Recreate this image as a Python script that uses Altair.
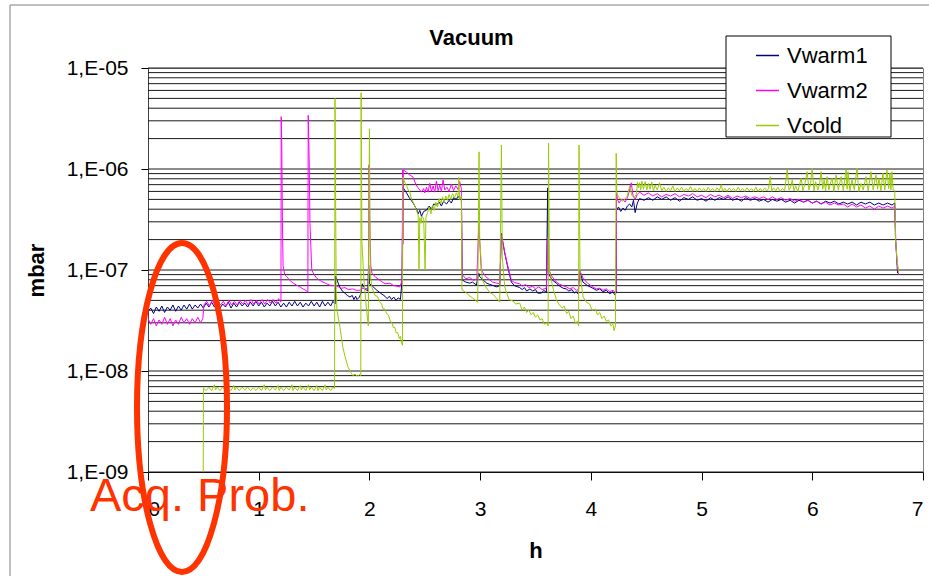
import altair as alt
import pandas as pd

FONT = "Liberation Sans"

SERIES = ["Vwarm1", "Vwarm2", "Vcold"]
COLORS = ["#000080", "#FF00FF", "#99CC00"]

DECADES = [1e-9, 1e-8, 1e-7, 1e-6, 1e-5]
MINOR_MULT = [2, 3, 4, 5, 6, 7, 8, 9]
X_TICKS = [0, 1, 2, 3, 4, 5, 6, 7]

# (h, mbar)
VWARM1 = [
    (0.00, 3.9e-8), (0.025, 4.2e-8), (0.05, 3.7e-8), (0.075, 4.3e-8), (0.10, 3.9e-8),
    (0.125, 4.4e-8), (0.15, 3.8e-8), (0.175, 4.3e-8), (0.20, 4.0e-8), (0.225, 4.5e-8),
    (0.25, 3.9e-8), (0.275, 4.4e-8), (0.30, 4.0e-8), (0.325, 4.5e-8), (0.35, 4.1e-8),
    (0.375, 4.6e-8), (0.40, 4.1e-8), (0.425, 4.5e-8), (0.45, 4.2e-8), (0.475, 4.6e-8),
    (0.50, 4.2e-8), (0.525, 4.7e-8), (0.55, 4.3e-8), (0.575, 4.8e-8), (0.60, 4.3e-8),
    (0.625, 4.7e-8), (0.65, 4.2e-8), (0.675, 4.6e-8), (0.70, 4.3e-8), (0.725, 4.8e-8),
    (0.75, 4.2e-8), (0.775, 4.7e-8), (0.80, 4.3e-8), (0.825, 4.8e-8), (0.85, 4.4e-8),
    (0.875, 4.7e-8), (0.90, 4.3e-8), (0.925, 4.8e-8), (0.95, 4.4e-8), (0.975, 4.9e-8),
    (1.00, 4.4e-8), (1.025, 4.8e-8), (1.05, 4.3e-8), (1.075, 4.7e-8), (1.10, 4.4e-8),
    (1.125, 4.9e-8), (1.15, 4.4e-8), (1.175, 4.8e-8), (1.20, 4.3e-8), (1.225, 4.7e-8),
    (1.25, 4.3e-8), (1.275, 4.8e-8), (1.30, 4.4e-8), (1.325, 4.9e-8), (1.35, 4.4e-8),
    (1.375, 4.8e-8), (1.40, 4.3e-8), (1.425, 4.7e-8), (1.45, 4.4e-8), (1.475, 4.9e-8),
    (1.50, 4.4e-8), (1.525, 4.8e-8), (1.55, 4.3e-8), (1.575, 4.9e-8), (1.60, 4.4e-8),
    (1.625, 4.8e-8), (1.65, 4.4e-8), (1.67, 4.9e-8), (1.69, 4.6e-8),
    (1.695, 8.7e-8), (1.71, 7.8e-8), (1.734, 6.7e-8), (1.76, 6.1e-8), (1.779, 5.9e-8),
    (1.80, 5.6e-8), (1.824, 5.4e-8), (1.845, 5.6e-8), (1.86, 5.1e-8), (1.875, 5.5e-8),
    (1.888, 5.1e-8), (1.91, 5.4e-8), (1.925, 6.0e-8), (1.935, 7.3e-8), (1.96, 6.5e-8),
    (1.985, 6.2e-8), (1.993, 1.12e-7), (2.00, 7.3e-8), (2.023, 7.0e-8), (2.06, 6.4e-8),
    (2.10, 5.9e-8), (2.14, 5.5e-8), (2.16, 5.2e-8), (2.18, 5.5e-8), (2.20, 5.1e-8),
    (2.22, 5.4e-8), (2.24, 5.0e-8), (2.26, 5.3e-8), (2.28, 5.1e-8), (2.295, 8.0e-8),
    (2.302, 7.0e-7), (2.31, 6.4e-7), (2.335, 5.8e-7), (2.36, 5.2e-7), (2.395, 4.6e-7),
    (2.425, 4.0e-7), (2.44, 3.6e-7), (2.455, 3.9e-7), (2.47, 3.4e-7), (2.49, 3.8e-7),
    (2.515, 3.9e-7), (2.54, 4.3e-7), (2.56, 4.0e-7), (2.58, 4.5e-7), (2.606, 4.4e-7),
    (2.63, 4.7e-7), (2.65, 4.3e-7), (2.67, 4.8e-7), (2.696, 4.5e-7), (2.72, 4.9e-7),
    (2.74, 4.6e-7), (2.76, 5.2e-7), (2.786, 5.0e-7), (2.80, 5.4e-7), (2.816, 5.1e-7),
    (2.831, 5.3e-7), (2.838, 7.8e-8),
    (2.843, 7.9e-8), (2.87, 7.6e-8), (2.906, 7.4e-8), (2.93, 7.6e-8), (2.966, 7.1e-8),
    (2.987, 9.3e-8), (2.996, 8.6e-8), (3.03, 7.9e-8), (3.06, 7.4e-8), (3.087, 7.2e-8),
    (3.12, 7.0e-8), (3.15, 6.8e-8), (3.177, 7.0e-8), (3.192, 2.3e-7), (3.222, 1.47e-7),
    (3.249, 1.07e-7), (3.282, 7.6e-8), (3.31, 7.0e-8), (3.357, 6.7e-8), (3.38, 6.4e-8),
    (3.40, 6.7e-8), (3.42, 6.2e-8), (3.45, 6.5e-8), (3.474, 6.2e-8), (3.50, 6.4e-8),
    (3.52, 5.9e-8), (3.553, 5.9e-8), (3.575, 6.3e-8), (3.598, 6.0e-8), (3.610, 6.5e-7),
    (3.615, 9.3e-8), (3.65, 8.0e-8), (3.688, 7.4e-8), (3.72, 6.9e-8), (3.75, 6.6e-8),
    (3.778, 6.5e-8), (3.80, 6.2e-8), (3.83, 6.4e-8), (3.85, 5.9e-8), (3.868, 6.1e-8),
    (3.885, 5.8e-8), (3.898, 1.0e-7), (3.928, 7.6e-8), (3.97, 7.0e-8), (4.018, 6.6e-8),
    (4.05, 6.3e-8), (4.08, 6.5e-8), (4.108, 6.1e-8), (4.14, 6.3e-8), (4.17, 5.8e-8),
    (4.20, 6.1e-8), (4.214, 5.7e-8), (4.229, 5.9e-8),
    (4.232, 3.9e-7), (4.25, 4.2e-7), (4.27, 3.8e-7), (4.29, 4.1e-7), (4.31, 3.9e-7),
    (4.33, 4.3e-7), (4.35, 4.5e-7), (4.37, 4.2e-7), (4.385, 4.9e-7), (4.40, 3.7e-7),
    (4.42, 4.6e-7), (4.44, 5.1e-7), (4.48, 4.9e-7), (4.52, 5.2e-7), (4.56, 4.9e-7),
    (4.60, 5.3e-7), (4.64, 5.0e-7), (4.68, 5.3e-7), (4.72, 4.9e-7), (4.76, 5.2e-7),
    (4.80, 4.8e-7), (4.84, 5.2e-7), (4.88, 5.0e-7), (4.92, 5.3e-7), (4.96, 4.9e-7),
    (5.00, 5.1e-7), (5.04, 4.8e-7), (5.08, 5.2e-7), (5.12, 4.9e-7), (5.16, 5.2e-7),
    (5.20, 5.0e-7), (5.24, 5.3e-7), (5.28, 4.9e-7), (5.32, 5.1e-7), (5.36, 4.8e-7),
    (5.40, 5.2e-7), (5.44, 4.9e-7), (5.48, 5.1e-7), (5.52, 4.8e-7), (5.56, 5.0e-7),
    (5.60, 4.7e-7), (5.64, 5.0e-7), (5.68, 4.8e-7), (5.72, 5.0e-7), (5.76, 4.7e-7),
    (5.80, 4.9e-7), (5.84, 4.6e-7), (5.88, 4.9e-7), (5.92, 4.7e-7), (5.96, 4.9e-7),
    (6.00, 4.6e-7), (6.04, 4.8e-7), (6.08, 4.5e-7), (6.12, 4.8e-7), (6.16, 4.6e-7),
    (6.20, 4.8e-7), (6.24, 4.5e-7), (6.28, 4.7e-7), (6.32, 4.5e-7), (6.36, 4.7e-7),
    (6.40, 4.4e-7), (6.44, 4.7e-7), (6.48, 4.5e-7), (6.52, 4.7e-7), (6.56, 4.4e-7),
    (6.60, 4.6e-7), (6.64, 4.4e-7), (6.68, 4.6e-7), (6.72, 4.4e-7), (6.745, 4.6e-7),
    (6.752, 2.0e-7), (6.760, 1.5e-7), (6.770, 9.3e-8),
]

VWARM2 = [
    (0.00, 3.3e-8), (0.025, 2.9e-8), (0.05, 3.3e-8), (0.075, 2.8e-8), (0.10, 3.2e-8),
    (0.125, 2.9e-8), (0.15, 3.4e-8), (0.175, 2.9e-8), (0.20, 3.3e-8), (0.225, 2.8e-8),
    (0.25, 3.2e-8), (0.275, 2.9e-8), (0.30, 3.4e-8), (0.325, 3.0e-8), (0.35, 3.3e-8),
    (0.375, 2.9e-8), (0.40, 3.3e-8), (0.425, 3.0e-8), (0.45, 3.4e-8), (0.475, 3.0e-8),
    (0.495, 3.3e-8), (0.505, 4.5e-8), (0.53, 4.9e-8), (0.555, 4.4e-8), (0.58, 5.0e-8),
    (0.605, 4.5e-8), (0.63, 5.0e-8), (0.655, 4.5e-8), (0.68, 4.9e-8), (0.705, 4.4e-8),
    (0.73, 5.0e-8), (0.755, 4.5e-8), (0.78, 4.9e-8), (0.805, 4.5e-8), (0.83, 5.0e-8),
    (0.855, 4.6e-8), (0.88, 5.0e-8), (0.905, 4.5e-8), (0.93, 5.1e-8), (0.955, 4.6e-8),
    (0.98, 5.0e-8), (1.005, 4.6e-8), (1.03, 5.1e-8), (1.055, 4.6e-8), (1.08, 5.1e-8),
    (1.105, 4.7e-8), (1.13, 5.1e-8), (1.155, 4.7e-8), (1.18, 5.2e-8), (1.198, 4.8e-8),
    (1.201, 4.9e-8), (1.203, 3.3e-6), (1.208, 1.8e-6), (1.214, 3.0e-7), (1.22, 1.1e-7),
    (1.235, 9.0e-8), (1.253, 8.6e-8), (1.28, 7.9e-8), (1.313, 7.4e-8), (1.34, 7.1e-8),
    (1.373, 6.8e-8), (1.40, 6.5e-8), (1.434, 6.2e-8), (1.444, 6.0e-8), (1.447, 3.4e-6),
    (1.456, 1.2e-6), (1.463, 2.9e-7), (1.479, 1.0e-7), (1.50, 9.0e-8), (1.524, 8.3e-8),
    (1.56, 7.8e-8), (1.614, 7.3e-8), (1.65, 7.0e-8), (1.689, 7.0e-8), (1.72, 6.8e-8),
    (1.75, 6.6e-8), (1.779, 6.7e-8), (1.81, 6.4e-8), (1.85, 6.5e-8), (1.88, 6.3e-8),
    (1.915, 6.3e-8), (1.94, 6.6e-8), (1.97, 6.5e-8), (1.99, 6.8e-8), (1.996, 1.1e-6),
    (2.003, 3.0e-7), (2.012, 1.1e-7), (2.023, 9.3e-8), (2.06, 8.4e-8), (2.095, 7.9e-8),
    (2.14, 7.3e-8), (2.185, 7.4e-8), (2.22, 7.0e-8), (2.25, 6.9e-8), (2.276, 6.8e-8),
    (2.295, 8.0e-8), (2.300, 9.8e-7), (2.303, 1.8e-7), (2.306, 9.8e-7),
    (2.335, 9.3e-7), (2.36, 8.8e-7), (2.395, 8.3e-7), (2.42, 7.0e-7), (2.44, 6.5e-7),
    (2.47, 5.9e-7), (2.49, 6.4e-7), (2.50, 5.8e-7), (2.515, 6.6e-7), (2.53, 5.9e-7),
    (2.545, 7.2e-7), (2.56, 6.0e-7), (2.575, 6.8e-7), (2.59, 5.9e-7), (2.605, 7.6e-7),
    (2.62, 6.1e-7), (2.635, 6.9e-7), (2.65, 6.0e-7), (2.665, 7.8e-7), (2.68, 6.2e-7),
    (2.70, 6.6e-7), (2.72, 6.0e-7), (2.74, 7.1e-7), (2.76, 6.1e-7), (2.78, 6.8e-7),
    (2.80, 6.3e-7), (2.815, 7.5e-7), (2.83, 6.4e-7), (2.838, 8.9e-8),
    (2.843, 8.9e-8), (2.87, 8.2e-8), (2.906, 8.4e-8), (2.94, 7.9e-8), (2.97, 8.1e-8),
    (2.988, 2.9e-7), (3.01, 1.0e-7), (3.05, 8.6e-8), (3.11, 7.6e-8), (3.15, 7.4e-8),
    (3.177, 7.3e-8), (3.192, 2.2e-7), (3.222, 1.5e-7), (3.249, 1.1e-7), (3.282, 7.9e-8),
    (3.31, 7.5e-8), (3.357, 7.3e-8), (3.38, 6.9e-8), (3.41, 7.2e-8), (3.44, 6.7e-8),
    (3.474, 6.9e-8), (3.50, 6.5e-8), (3.53, 6.8e-8), (3.56, 6.4e-8), (3.598, 6.6e-8),
    (3.611, 2.1e-7), (3.62, 1.0e-7), (3.65, 8.6e-8), (3.688, 7.6e-8), (3.72, 7.2e-8),
    (3.778, 6.8e-8), (3.81, 6.5e-8), (3.84, 6.7e-8), (3.868, 6.3e-8), (3.89, 6.4e-8),
    (3.898, 1.0e-7), (3.93, 8.3e-8), (3.97, 7.4e-8), (4.018, 6.8e-8), (4.05, 6.5e-8),
    (4.079, 6.6e-8), (4.11, 6.3e-8), (4.14, 6.5e-8), (4.17, 6.1e-8), (4.20, 6.3e-8),
    (4.214, 6.1e-8), (4.229, 6.2e-8),
    (4.232, 6.0e-7), (4.24, 5.0e-7), (4.255, 4.6e-7), (4.27, 4.9e-7), (4.29, 5.0e-7),
    (4.31, 4.7e-7), (4.33, 5.2e-7), (4.35, 6.2e-7), (4.365, 7.3e-7), (4.38, 5.5e-7),
    (4.40, 5.0e-7), (4.42, 5.6e-7), (4.44, 5.9e-7), (4.48, 5.5e-7), (4.52, 5.8e-7),
    (4.56, 5.4e-7), (4.60, 5.7e-7), (4.64, 5.3e-7), (4.68, 5.6e-7), (4.72, 5.4e-7),
    (4.76, 5.7e-7), (4.80, 5.3e-7), (4.84, 5.6e-7), (4.88, 5.4e-7), (4.92, 5.7e-7),
    (4.96, 5.3e-7), (5.00, 5.5e-7), (5.04, 5.2e-7), (5.08, 5.6e-7), (5.12, 5.3e-7),
    (5.16, 5.5e-7), (5.20, 5.2e-7), (5.24, 5.5e-7), (5.28, 5.1e-7), (5.32, 5.4e-7),
    (5.36, 5.2e-7), (5.40, 5.4e-7), (5.44, 5.1e-7), (5.48, 5.3e-7), (5.52, 5.1e-7),
    (5.56, 5.3e-7), (5.60, 5.0e-7), (5.64, 5.3e-7), (5.68, 5.0e-7), (5.72, 5.2e-7),
    (5.76, 4.9e-7), (5.80, 5.1e-7), (5.84, 4.8e-7), (5.88, 5.0e-7), (5.92, 4.7e-7),
    (5.96, 4.9e-7), (6.00, 4.6e-7), (6.04, 4.8e-7), (6.08, 4.5e-7), (6.12, 4.7e-7),
    (6.16, 4.4e-7), (6.20, 4.6e-7), (6.24, 4.4e-7), (6.28, 4.5e-7), (6.32, 4.2e-7),
    (6.36, 4.5e-7), (6.40, 4.2e-7), (6.44, 4.4e-7), (6.48, 4.1e-7), (6.52, 4.3e-7),
    (6.56, 4.0e-7), (6.60, 4.3e-7), (6.64, 4.1e-7), (6.68, 4.3e-7), (6.72, 4.1e-7),
    (6.745, 4.3e-7), (6.755, 1.8e-7), (6.765, 1.2e-7), (6.78, 9.0e-8),
]

VCOLD = [
    (0.499, 1.0e-9), (0.501, 6.8e-9), (0.525, 6.4e-9), (0.55, 6.9e-9), (0.575, 6.4e-9),
    (0.60, 7.3e-9), (0.61, 6.5e-9), (0.625, 6.9e-9), (0.65, 6.4e-9), (0.675, 6.9e-9),
    (0.70, 6.4e-9), (0.725, 6.8e-9), (0.75, 6.4e-9), (0.775, 7.2e-9), (0.785, 6.5e-9),
    (0.80, 6.9e-9), (0.825, 6.4e-9), (0.85, 6.9e-9), (0.875, 6.5e-9), (0.90, 6.9e-9),
    (0.925, 6.4e-9), (0.95, 6.8e-9), (0.975, 6.4e-9), (1.00, 6.9e-9), (1.025, 6.4e-9),
    (1.05, 7.3e-9), (1.06, 6.5e-9), (1.075, 6.9e-9), (1.10, 6.4e-9), (1.125, 6.9e-9),
    (1.15, 6.5e-9), (1.175, 7.2e-9), (1.185, 6.4e-9), (1.20, 6.9e-9), (1.225, 6.4e-9),
    (1.25, 6.9e-9), (1.275, 6.5e-9), (1.30, 7.3e-9), (1.31, 6.4e-9), (1.325, 6.9e-9),
    (1.35, 6.4e-9), (1.375, 7.2e-9), (1.385, 6.5e-9), (1.40, 6.9e-9), (1.425, 6.4e-9),
    (1.45, 7.3e-9), (1.46, 6.5e-9), (1.475, 6.9e-9), (1.50, 6.4e-9), (1.525, 7.2e-9),
    (1.535, 6.4e-9), (1.55, 6.9e-9), (1.575, 6.4e-9), (1.60, 7.3e-9), (1.61, 6.5e-9),
    (1.625, 6.9e-9), (1.65, 6.4e-9), (1.67, 6.9e-9), (1.685, 6.7e-9),
    (1.689, 5.0e-6), (1.700, 6.0e-8), (1.707, 4.0e-8), (1.734, 2.7e-8), (1.761, 1.7e-8),
    (1.779, 1.4e-8), (1.806, 1.1e-8), (1.836, 9.5e-9), (1.85, 9.0e-9), (1.87, 9.3e-9),
    (1.89, 8.9e-9), (1.91, 9.2e-9), (1.922, 9.0e-9), (1.925, 5.7e-6), (1.932, 1.9e-7),
    (1.95, 8.0e-8), (1.97, 4.5e-8), (1.99, 2.8e-8), (2.000, 2.5e-6), (2.008, 9.0e-8),
    (2.023, 6.7e-8), (2.05, 5.6e-8), (2.07, 5.5e-8), (2.095, 4.8e-8), (2.11, 4.6e-8),
    (2.12, 4.2e-8), (2.14, 4.1e-8), (2.155, 3.7e-8), (2.17, 3.6e-8), (2.19, 3.1e-8),
    (2.205, 3.0e-8), (2.215, 2.7e-8), (2.23, 2.7e-8), (2.24, 2.4e-8), (2.255, 2.4e-8),
    (2.27, 2.1e-8), (2.28, 2.2e-8), (2.29, 1.9e-8), (2.298, 1.8e-8),
    (2.302, 8.3e-7), (2.32, 7.3e-7), (2.335, 6.9e-7), (2.35, 6.2e-7), (2.365, 5.9e-7),
    (2.38, 5.0e-7), (2.395, 4.7e-7), (2.41, 4.3e-7), (2.425, 3.9e-7), (2.44, 3.5e-7),
    (2.448, 1.0e-7), (2.455, 3.3e-7), (2.465, 2.9e-7), (2.475, 3.4e-7), (2.49, 3.2e-7),
    (2.503, 1.0e-7), (2.51, 3.3e-7), (2.525, 3.7e-7), (2.54, 4.2e-7), (2.555, 3.6e-7),
    (2.57, 4.4e-7), (2.585, 3.9e-7), (2.60, 4.7e-7), (2.615, 4.2e-7), (2.63, 5.1e-7),
    (2.645, 4.5e-7), (2.66, 5.3e-7), (2.675, 4.7e-7), (2.69, 5.4e-7), (2.705, 4.9e-7),
    (2.72, 5.6e-7), (2.735, 5.0e-7), (2.75, 5.7e-7), (2.77, 5.2e-7), (2.785, 5.8e-7),
    (2.80, 5.3e-7), (2.807, 8.3e-7), (2.815, 5.0e-7), (2.83, 5.4e-7), (2.836, 6.3e-8),
    (2.843, 6.3e-8), (2.87, 6.0e-8), (2.90, 5.6e-8), (2.93, 5.3e-8), (2.96, 5.0e-8),
    (2.978, 4.8e-8), (2.99, 1.48e-6), (2.996, 2.0e-7), (3.02, 8.0e-8), (3.05, 6.8e-8),
    (3.087, 6.0e-8), (3.12, 5.7e-8), (3.15, 5.2e-8), (3.177, 4.8e-8), (3.192, 1.73e-6),
    (3.20, 1.35e-7), (3.222, 6.8e-8), (3.26, 5.1e-8), (3.30, 4.9e-8), (3.32, 4.6e-8),
    (3.357, 4.7e-8), (3.38, 4.0e-8), (3.40, 4.3e-8), (3.42, 3.8e-8), (3.44, 4.0e-8),
    (3.46, 3.6e-8), (3.48, 3.8e-8), (3.50, 3.4e-8), (3.52, 3.6e-8), (3.54, 3.2e-8),
    (3.56, 3.3e-8), (3.58, 2.9e-8), (3.60, 3.0e-8), (3.614, 2.8e-8), (3.618, 1.8e-6),
    (3.626, 1.0e-7), (3.655, 6.8e-8), (3.688, 5.1e-8), (3.71, 4.6e-8), (3.74, 4.2e-8),
    (3.76, 4.4e-8), (3.78, 3.7e-8), (3.80, 3.9e-8), (3.82, 3.3e-8), (3.84, 3.5e-8),
    (3.86, 3.0e-8), (3.88, 3.1e-8), (3.889, 2.8e-8), (3.893, 1.73e-6), (3.902, 9.0e-8),
    (3.93, 5.4e-8), (3.96, 4.8e-8), (3.99, 4.6e-8), (4.01, 4.0e-8), (4.04, 4.1e-8),
    (4.06, 3.6e-8), (4.08, 3.8e-8), (4.10, 3.3e-8), (4.12, 3.5e-8), (4.14, 3.1e-8),
    (4.16, 3.2e-8), (4.18, 2.8e-8), (4.20, 2.9e-8), (4.21, 2.5e-8), (4.222, 2.8e-8),
    (4.229, 1.43e-6), (4.234, 5.8e-7),
    (4.25, 5.3e-7), (4.27, 5.0e-7), (4.29, 4.8e-7), (4.31, 5.1e-7), (4.33, 5.4e-7),
    (4.35, 6.8e-7), (4.37, 5.5e-7), (4.39, 5.2e-7), (4.41, 5.6e-7), (4.422, 7.4e-7),
    (4.43, 6.5e-7), (4.44, 7.3e-7), (4.45, 6.2e-7), (4.46, 7.6e-7), (4.475, 6.3e-7),
    (4.49, 7.5e-7), (4.505, 6.2e-7), (4.52, 7.2e-7), (4.535, 6.3e-7), (4.55, 7.4e-7),
    (4.565, 6.1e-7), (4.58, 6.9e-7), (4.60, 6.2e-7), (4.62, 7.3e-7), (4.64, 6.1e-7),
    (4.66, 6.6e-7), (4.68, 6.0e-7), (4.70, 6.5e-7), (4.72, 6.1e-7), (4.74, 6.8e-7),
    (4.76, 6.0e-7), (4.78, 6.5e-7), (4.80, 6.1e-7), (4.82, 6.6e-7), (4.84, 6.0e-7),
    (4.86, 6.4e-7), (4.88, 6.1e-7), (4.90, 6.7e-7), (4.92, 6.0e-7), (4.94, 6.4e-7),
    (4.96, 6.0e-7), (4.98, 6.5e-7), (5.00, 6.1e-7), (5.02, 6.4e-7), (5.04, 6.0e-7),
    (5.06, 6.6e-7), (5.08, 6.1e-7), (5.10, 6.4e-7), (5.12, 6.0e-7), (5.14, 6.5e-7),
    (5.16, 6.1e-7), (5.178, 7.0e-7), (5.19, 6.0e-7), (5.21, 6.4e-7), (5.23, 6.0e-7),
    (5.25, 6.5e-7), (5.27, 6.1e-7), (5.29, 6.4e-7), (5.31, 6.0e-7), (5.33, 6.6e-7),
    (5.35, 6.1e-7), (5.37, 6.4e-7), (5.39, 6.0e-7), (5.41, 6.5e-7), (5.43, 6.1e-7),
    (5.45, 6.4e-7), (5.47, 6.0e-7), (5.49, 6.6e-7), (5.51, 6.0e-7), (5.53, 6.4e-7),
    (5.55, 6.0e-7), (5.57, 6.5e-7), (5.59, 6.1e-7), (5.605, 6.4e-7), (5.62, 8.4e-7),
    (5.635, 6.0e-7), (5.65, 6.5e-7), (5.67, 6.1e-7), (5.69, 6.6e-7), (5.71, 6.0e-7),
    (5.73, 6.4e-7), (5.75, 6.1e-7), (5.774, 9.8e-7), (5.79, 6.2e-7), (5.805, 6.6e-7),
    (5.819, 7.8e-7), (5.835, 6.1e-7), (5.85, 6.8e-7), (5.87, 6.0e-7), (5.885, 7.0e-7),
    (5.90, 8.1e-7), (5.915, 6.1e-7), (5.93, 6.9e-7), (5.954, 9.4e-7), (5.97, 6.2e-7),
    (5.985, 7.2e-7), (5.999, 1.02e-6), (6.015, 6.1e-7), (6.03, 7.5e-7), (6.05, 6.2e-7),
    (6.065, 7.0e-7), (6.08, 9.4e-7), (6.095, 6.3e-7), (6.107, 7.8e-7), (6.12, 6.1e-7),
    (6.134, 8.4e-7), (6.15, 6.2e-7), (6.165, 7.3e-7), (6.179, 8.1e-7), (6.195, 6.0e-7),
    (6.215, 8.7e-7), (6.235, 6.2e-7), (6.26, 8.4e-7), (6.28, 6.1e-7), (6.305, 9.8e-7),
    (6.315, 6.3e-7), (6.323, 9.4e-7), (6.34, 6.1e-7), (6.359, 7.8e-7), (6.38, 6.2e-7),
    (6.404, 1.02e-6), (6.42, 6.0e-7), (6.44, 7.2e-7), (6.46, 6.2e-7), (6.485, 8.4e-7),
    (6.505, 6.1e-7), (6.53, 9.4e-7), (6.55, 6.2e-7), (6.575, 8.7e-7), (6.59, 6.3e-7),
    (6.602, 8.1e-7), (6.62, 6.1e-7), (6.638, 9.1e-7), (6.655, 6.2e-7), (6.674, 9.8e-7),
    (6.69, 6.4e-7), (6.701, 9.1e-7), (6.71, 6.2e-7), (6.719, 9.4e-7), (6.73, 6.3e-7),
    (6.745, 6.0e-7), (6.752, 2.0e-7), (6.765, 1.3e-7), (6.78, 9.3e-8),
]

# ---------- tables ----------
rows = []
for name, pts in zip(SERIES, [VWARM1, VWARM2, VCOLD]):
    for h, v in pts:
        rows.append({"s": name, "h": h, "v": v})
df = pd.DataFrame(rows)

grid_vals = list(DECADES) + [m * d for d in DECADES[:-1] for m in MINOR_MULT]
grid_df = pd.DataFrame({"v": grid_vals})

W, H = 775, 404

xscale = alt.Scale(domain=[0, 7], nice=False, zero=False)
yscale = alt.Scale(type="log", domain=[1e-9, 1e-5], nice=False)

xaxis = alt.Axis(
    values=X_TICKS, format=".0f", grid=False, tickSize=8, tickColor="#000",
    domainColor="#000", labelFont=FONT, labelFontSize=21, labelColor="#000",
    labelPadding=18, title="h", titleFont=FONT, titleFontSize=22,
    titleFontWeight="bold", titleColor="#000", titleBaseline="alphabetic",
    titleY=85, zindex=0,
)
yaxis = alt.Axis(
    values=DECADES, grid=False, tickSize=7, tickColor="#000", domainColor="#404040",
    labelExpr="'1,E-0' + format(-round(log(datum.value)/LN10), 'd')",
    labelFont=FONT, labelFontSize=21, labelColor="#000", labelPadding=13,
    title="mbar", titleFont=FONT, titleFontSize=22, titleFontWeight="bold",
    titleColor="#000", titleBaseline="alphabetic", titleAngle=270,
    titleX=-105, titleY=202, zindex=0,
)

color = alt.Color(
    "s:N",
    scale=alt.Scale(domain=SERIES, range=COLORS),
    legend=alt.Legend(
        orient="none", legendX=607, legendY=-25, title=None, padding=0,
        symbolType="stroke", symbolSize=529, symbolStrokeWidth=1.5,
        labelFont=FONT, labelFontSize=22, labelColor="#000", labelOffset=7,
        rowPadding=11,
    ),
)

grid = alt.Chart(grid_df).mark_rule(color="#1a1a1a", strokeWidth=1).encode(
    y=alt.Y("v:Q", scale=yscale, axis=yaxis)
)

def series_layer(name):
    return (
        alt.Chart(df)
        .transform_filter(alt.datum.s == name)
        .mark_line(strokeWidth=1, clip=True)
        .encode(
            x=alt.X("h:Q", scale=xscale, axis=xaxis),
            y=alt.Y("v:Q", scale=yscale, axis=yaxis),
            color=color,
        )
    )

lines = [series_layer(n) for n in SERIES]

one = pd.DataFrame({"t": ["Vacuum"]})

outer = alt.Chart(one).mark_rect(fill=None, stroke="#808080", strokeWidth=1).encode(
    x=alt.value(-138), x2=alt.value(820), y=alt.value(-63), y2=alt.value(640)
)
legend_box = alt.Chart(one).mark_rect(fill="white", stroke="#000", strokeWidth=1).encode(
    x=alt.value(578), x2=alt.value(743), y=alt.value(-32), y2=alt.value(69)
)
title = alt.Chart(one).mark_text(
    font=FONT, fontSize=22, fontWeight="bold", color="#000",
    align="center", baseline="alphabetic",
).encode(x=alt.value(323.5), y=alt.value(-23), text="t:N")

ELLIPSE = ("M 0 -1 C 0.1511 -1 0.2736 -0.5523 0.2736 0 "
           "C 0.2736 0.5523 0.1511 1 0 1 C -0.1511 1 -0.2736 0.5523 -0.2736 0 "
           "C -0.2736 -0.5523 -0.1511 -1 0 -1 Z")
ellipse = alt.Chart(one).mark_point(
    shape=ELLIPSE, filled=False, stroke="#FF3300", strokeWidth=6, opacity=1, size=108241
).encode(x=alt.value(34), y=alt.value(339.5))

ann = pd.DataFrame({"t": ["Acq. Prob."]})
ann_text = alt.Chart(ann).mark_text(
    font=FONT, fontSize=47, color="#FF3300", align="left", baseline="alphabetic"
).encode(x=alt.value(-58), y=alt.value(443), text="t:N")

chart = (
    alt.layer(outer, grid, *lines, legend_box, title, ellipse, ann_text)
    .properties(
        width=W, height=H,
        autosize=alt.AutoSizeParams(type="none"),
        padding={"left": 148, "top": 68, "right": 6, "bottom": 104},
        background="white",
    )
    .configure_view(stroke="#808080", strokeWidth=1)
)

chart.save("out.html", embed_options={"renderer": "svg", "actions": False})
